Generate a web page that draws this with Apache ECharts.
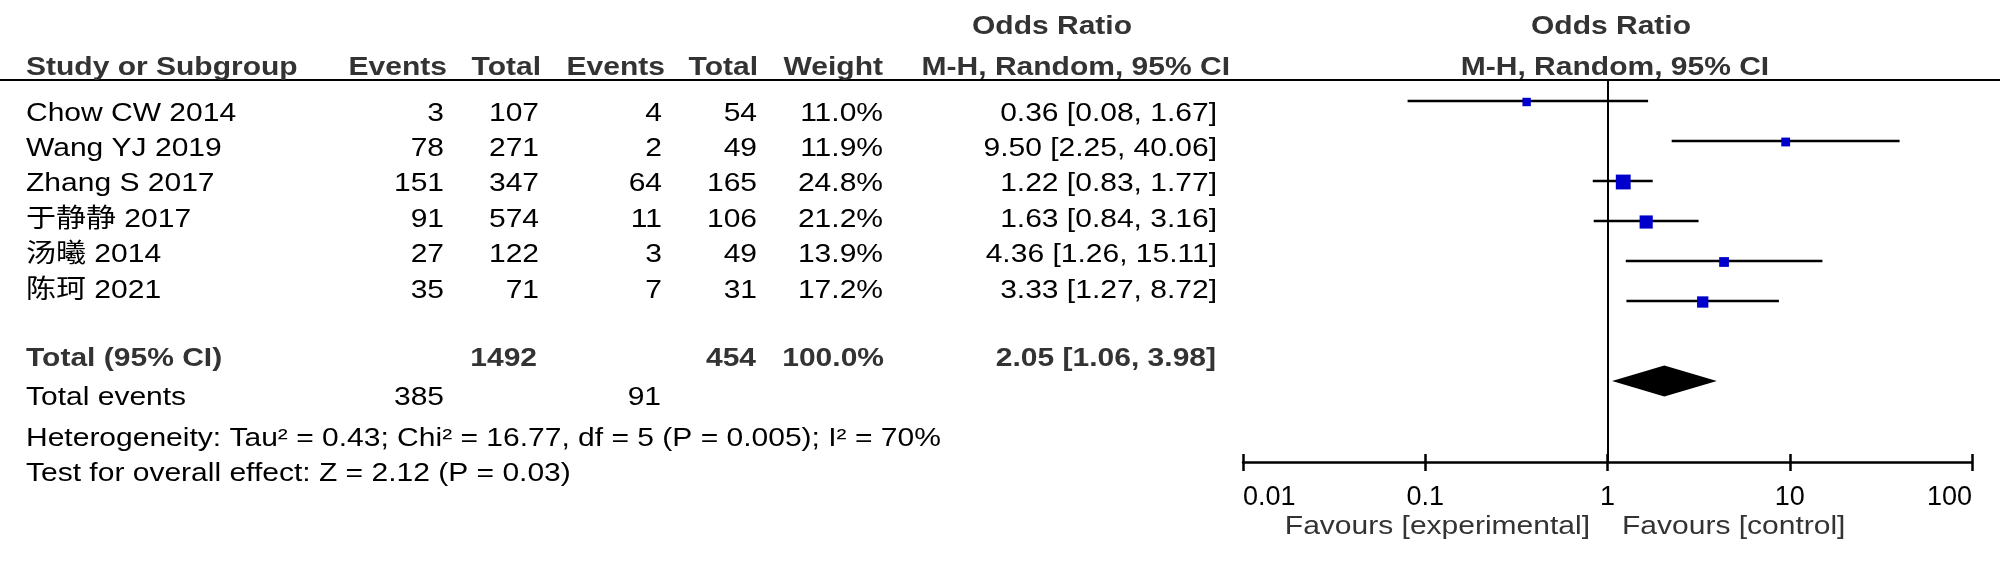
<!DOCTYPE html>
<html><head><meta charset="utf-8">
<script src="https://cdn.jsdelivr.net/npm/echarts@6/dist/echarts.min.js"></script>
<style>html,body{margin:0;padding:0;background:#fff}#c{width:2000px;height:562px}</style>
</head><body><div id="c"></div>
<script>
// ---- data ----
const studies    = ['Chow CW 2014', 'Wang YJ 2019', 'Zhang S 2017', '于静静 2017', '汤曦 2014', '陈珂 2021'];
const expEvents  = [3, 78, 151, 91, 27, 35];
const expTotal   = [107, 271, 347, 574, 122, 71];
const ctlEvents  = [4, 2, 64, 11, 3, 7];
const ctlTotal   = [54, 49, 165, 106, 49, 31];
const weights    = [11.0, 11.9, 24.8, 21.2, 13.9, 17.2];
const oddsRatio  = [0.36, 9.50, 1.22, 1.63, 4.36, 3.33];
const ciLow      = [0.08, 2.25, 0.83, 0.84, 1.26, 1.27];
const ciHigh     = [1.67, 40.06, 1.77, 3.16, 15.11, 8.72];
const pooledOR   = 2.05;
const pooledLow  = 1.06;
const pooledHigh = 3.98;
const tickLabels = ['0.01', '0.1', '1', '10', '100'];
const heterogeneityText = 'Heterogeneity: Tau\u00b2 = 0.43; Chi\u00b2 = 16.77, df = 5 (P = 0.005); I\u00b2 = 70%';
const overallText = 'Test for overall effect: Z = 2.12 (P = 0.03)';
const favoursLeft = 'Favours [experimental]';
const favoursRight = 'Favours [control]';

// ---- layout ----
const FONT = '"Liberation Sans", Arial, "Noto Sans CJK SC", sans-serif';
const SX = 1.154;
const rowY = r => 113.5 + 35.4 * r;
function txt(s, x, y, align, bold, color) {
  return {
    type: 'text', x: x, y: y, scaleX: SX, silent: true,
    style: {
      text: String(s), x: 0, y: 0,
      font: (bold ? 'bold ' : '') + '26px ' + FONT,
      fill: color || (bold ? '#333' : '#000'),
      align: align, verticalAlign: 'middle',
      textAlign: align, textVerticalAlign: 'middle'
    }
  };
}
const sum = a => a.reduce((s, v) => s + v, 0);
const fmtCI = (o, l, h) => o.toFixed(2) + ' [' + l.toFixed(2) + ', ' + h.toFixed(2) + ']';

const g = [];
// header line
g.push({ type: 'line', silent: true, shape: { x1: 0, y1: 80, x2: 2000, y2: 80 }, style: { stroke: '#000', lineWidth: 2 } });
// header rows
g.push(txt('Odds Ratio', 1052, 27, 'center', true));
g.push(txt('Odds Ratio', 1611, 27, 'center', true));
const hy = 68;
g.push(txt('Study or Subgroup', 26, hy, 'left', true));
g.push(txt('Events', 447, hy, 'right', true));
g.push(txt('Total', 541, hy, 'right', true));
g.push(txt('Events', 665, hy, 'right', true));
g.push(txt('Total', 758, hy, 'right', true));
g.push(txt('Weight', 883, hy, 'right', true));
g.push(txt('M-H, Random, 95% CI', 1230, hy, 'right', true));
g.push(txt('M-H, Random, 95% CI', 1615, hy, 'center', true));
// study rows
studies.forEach((s, i) => {
  const y = rowY(i);
  g.push(txt(s, 26, y, 'left'));
  g.push(txt(expEvents[i], 444, y, 'right'));
  g.push(txt(expTotal[i], 539, y, 'right'));
  g.push(txt(ctlEvents[i], 662, y, 'right'));
  g.push(txt(ctlTotal[i], 757, y, 'right'));
  g.push(txt(weights[i].toFixed(1) + '%', 883, y, 'right'));
  g.push(txt(fmtCI(oddsRatio[i], ciLow[i], ciHigh[i]), 1217, y, 'right'));
});
// totals
const ty = 359;
g.push(txt('Total (95% CI)', 26, ty, 'left', true));
g.push(txt(sum(expTotal), 537, ty, 'right', true));
g.push(txt(sum(ctlTotal), 756, ty, 'right', true));
g.push(txt(sum(weights).toFixed(1) + '%', 884, ty, 'right', true));
g.push(txt(fmtCI(pooledOR, pooledLow, pooledHigh), 1216, ty, 'right', true));
g.push(txt('Total events', 26, 398, 'left'));
g.push(txt(sum(expEvents), 444, 398, 'right'));
g.push(txt(sum(ctlEvents), 661, 398, 'right'));
g.push(txt(heterogeneityText, 26, 438.5, 'left'));
g.push(txt(overallText, 26, 474, 'left'));
// favours
g.push(txt(favoursLeft, 1590, 527, 'right', false, '#333'));
g.push(txt(favoursRight, 1622, 527, 'left', false, '#333'));

const chart = echarts.init(document.getElementById('c'));
const logAxisBase = { type: 'log', logBase: 10, min: 0.01, max: 100, splitLine: { show: false } };
chart.setOption({
  animation: false,
  backgroundColor: '#fff',
  grid: { left: 1243, right: 28, top: 80, bottom: 100, containLabel: false },
  xAxis: [
    Object.assign({}, logAxisBase, {
      position: 'bottom',
      axisLine: { show: true, onZero: false, lineStyle: { color: '#000', width: 2.5 } },
      axisTick: { show: true, inside: false, length: 9, lineStyle: { color: '#000', width: 2.5 } },
      axisLabel: {
        show: true, color: '#000', fontSize: 27, fontFamily: 'Liberation Sans', margin: 22, lineHeight: 27,
        showMinLabel: true, showMaxLabel: true, alignMinLabel: 'left', alignMaxLabel: 'right',
        formatter: v => tickLabels[Math.round(Math.log10(v)) + 2]
      }
    }),
    Object.assign({}, logAxisBase, {
      position: 'bottom',
      axisLine: { show: false, onZero: false },
      axisTick: { show: true, inside: true, length: 8, lineStyle: { color: '#000', width: 2.5 } },
      axisLabel: { show: false }
    })
  ],
  yAxis: { type: 'value', min: -0.525, max: 9.025, inverse: true, show: false },
  graphic: g,
  series: [
    {
      type: 'custom', name: 'ci', silent: true,
      encode: { x: [0, 1], y: 2 },
      data: ciLow.map((l, i) => [l, ciHigh[i], i]),
      renderItem: (params, api) => {
        const a = api.coord([api.value(0), api.value(2)]);
        const b = api.coord([api.value(1), api.value(2)]);
        return { type: 'line', shape: { x1: a[0], y1: a[1], x2: b[0], y2: b[1] }, style: { stroke: '#000', lineWidth: 2.5 } };
      },
      markLine: {
        silent: true, symbol: ['none', 'none'], label: { show: false },
        lineStyle: { color: '#000', width: 2, type: 'solid' },
        data: [{ xAxis: 1 }]
      }
    },
    {
      type: 'scatter', name: 'or', silent: true,
      data: oddsRatio.map((v, i) => [v, i, weights[i]]),
      symbol: 'rect',
      symbolSize: d => 3.3 + 0.465 * d[2],
      symbolOffset: [0, 1],
      itemStyle: { color: '#0000cc', opacity: 1 }
    },
    {
      type: 'custom', name: 'pooled', silent: true,
      encode: { x: [0, 1, 2], y: 3 },
      data: [[pooledLow, pooledHigh, pooledOR, 7]],
      renderItem: (params, api) => {
        const r = api.value(3);
        const l = api.coord([api.value(0), r]);
        const h = api.coord([api.value(1), r]);
        const c = api.coord([api.value(2), r]);
        const hh = 15.5;
        return { type: 'polygon', shape: { points: [[l[0], c[1]], [c[0], c[1] - hh], [h[0], c[1]], [c[0], c[1] + hh]] }, style: { fill: '#000' } };
      }
    }
  ]
});
</script>
</body></html>
